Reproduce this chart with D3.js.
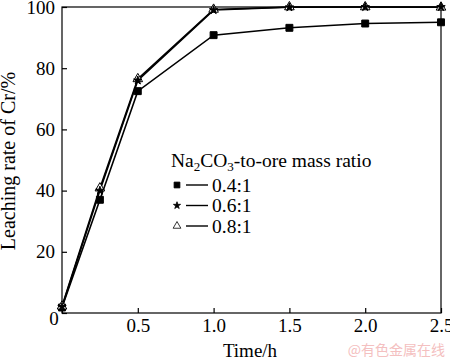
<!DOCTYPE html>
<html><head><meta charset="utf-8">
<script src="https://cdn.jsdelivr.net/npm/d3@7"></script>
<style>body{margin:0;background:#fff}svg{display:block}</style>
</head><body>
<script>
const times = [0, 0.25, 0.5, 1.0, 1.5, 2.0, 2.5];
const s04 = [1.8, 37.0, 72.5, 90.8, 93.2, 94.6, 95.0];
const s06 = [2.0, 40.0, 76.0, 99.0, 99.9, 100.0, 100.0];
const s08 = [2.2, 40.8, 76.5, 99.2, 100.0, 100.0, 99.9];
const seriesNames = ["0.4:1", "0.6:1", "0.8:1"];
const xTicks = [0, 0.5, 1.0, 1.5, 2.0, 2.5];
const yTicks = [0, 20, 40, 60, 80, 100];

const W = 450, H = 359;
const m = {l: 62, r: 9, t: 7, b: 46};
const FONT = "Liberation Serif";
const svg = d3.select("body").append("svg").attr("width", W).attr("height", H);
const x = d3.scaleLinear().domain([0, 2.5]).range([m.l, W - m.r]);
const y = d3.scaleLinear().domain([0, 100]).range([H - m.b, m.t]);
const fs = 19;

svg.append("rect").attr("x", x(0)).attr("y", y(100)).attr("width", x(2.5) - x(0)).attr("height", y(0) - y(100))
  .attr("fill", "none").attr("stroke", "#000").attr("stroke-width", 1.2);

const xa = svg.append("g").attr("transform", `translate(0,${y(0)})`)
  .call(d3.axisBottom(x).tickValues(xTicks).tickSize(-5).tickPadding(6)
    .tickFormat(d => d === 0 ? "" : d3.format(".1f")(d)));
const ya = svg.append("g").attr("transform", `translate(${x(0)},0)`)
  .call(d3.axisLeft(y).tickValues(yTicks).tickSize(-5).tickPadding(7)
    .tickFormat(d => d === 0 ? "" : d3.format("d")(d)));
[xa, ya].forEach(a => {
  a.attr("font-family", FONT);
  a.select(".domain").remove();
  a.selectAll("line").attr("stroke", "#000").attr("stroke-width", 1.2);
  a.selectAll("text").attr("font-size", fs).attr("fill", "#000");
});
svg.append("text").attr("x", 54).attr("y", 325).attr("text-anchor", "middle")
  .attr("font-family", FONT).attr("font-size", fs).text("0");

svg.append("text").attr("x", 250).attr("y", 357).attr("text-anchor", "middle")
  .attr("font-family", FONT).attr("font-size", fs).text("Time/h");
svg.append("text").attr("transform", `translate(15,161) rotate(-90)`).attr("text-anchor", "middle")
  .attr("font-family", FONT).attr("font-size", 20).text("Leaching rate of Cr/%");

const line = d3.line().x((d, i) => x(times[i])).y(d => y(d));
[s04, s06, s08].forEach(s => {
  svg.append("path").attr("d", line(s)).attr("fill", "none").attr("stroke", "#000").attr("stroke-width", 1.6);
});

const sq = d3.symbol().type(d3.symbolSquare).size(48);
const st = d3.symbol().type(d3.symbolStar).size(22);
const tr = d3.symbol().type(d3.symbolTriangle).size(40);
function markers(s, sym, fill) {
  svg.append("g").selectAll("path").data(s).join("path")
    .attr("transform", (d, i) => `translate(${x(times[i])},${y(d)})`)
    .attr("d", sym).attr("fill", fill).attr("stroke", "#000").attr("stroke-width", 1);
}
markers(s04, sq, "#000");
markers(s08, tr, "#fff");
markers(s06, st, "#000");

const lg = svg.append("g").attr("font-family", FONT);
const lt = lg.append("text").attr("x", 171).attr("y", 167).attr("font-size", 19.5);
lt.append("tspan").text("Na");
lt.append("tspan").attr("font-size", 13).attr("dy", 4).text("2");
lt.append("tspan").attr("dy", -4).text("CO");
lt.append("tspan").attr("font-size", 13).attr("dy", 4).text("3");
lt.append("tspan").attr("dy", -4).text("-to-ore mass ratio");
const syms = [d3.symbol().type(d3.symbolSquare).size(34), d3.symbol().type(d3.symbolStar).size(16), d3.symbol().type(d3.symbolTriangle).size(26)];
const fills = ["#000", "#000", "#fff"];
seriesNames.forEach((n, i) => {
  const cy = 185 + i * 20.5;
  lg.append("path").attr("transform", `translate(177,${cy})`).attr("d", syms[i]).attr("fill", fills[i]).attr("stroke", "#000").attr("stroke-width", 0.8);
  lg.append("line").attr("x1", 186).attr("x2", 208).attr("y1", cy).attr("y2", cy).attr("stroke", "#000").attr("stroke-width", 1.4);
  lg.append("text").attr("x", 212).attr("y", cy + 6.5).attr("font-size", 19.5).text(n);
});

svg.append("text").attr("x", 445).attr("y", 355).attr("text-anchor", "end")
  .attr("font-family", "Noto Sans CJK SC")
  .attr("font-size", 14).attr("fill", "#f4c0c0").text("@有色金属在线");
</script>
</body></html>
